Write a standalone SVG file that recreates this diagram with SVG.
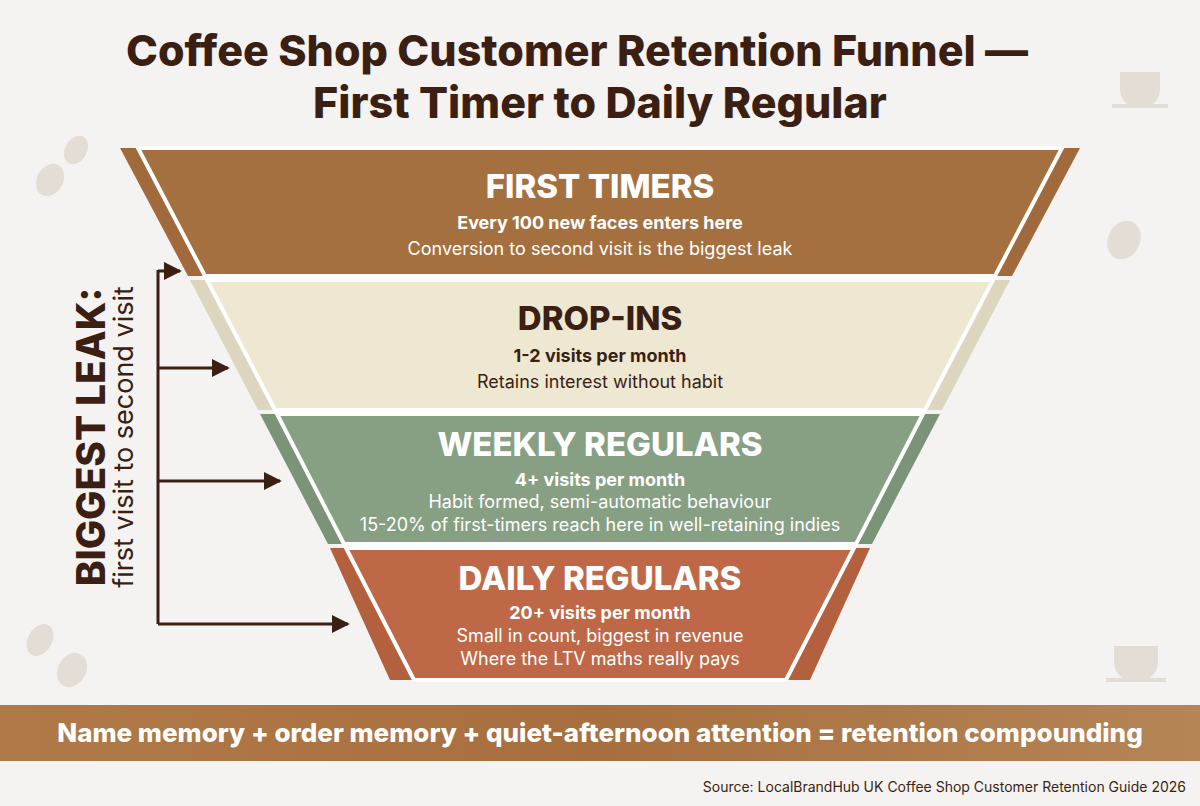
<svg xmlns="http://www.w3.org/2000/svg" width="1200" height="806" viewBox="0 0 1200 806">
<defs>
<style>
.t{font-family:Inter,"Open Sans",sans-serif;font-weight:800;text-anchor:middle}
.h{font-family:Inter,"Open Sans",sans-serif;font-weight:800;font-size:33px;text-anchor:middle}
.s{font-family:Inter,"Open Sans",sans-serif;font-size:18px;text-anchor:middle}
.sb{font-family:Inter,"Open Sans",sans-serif;font-weight:700;font-size:18px;text-anchor:middle}
.w{fill:#fff}.d{fill:#3b1f12}
.c{stroke:#3b1f12;stroke-width:3;fill:none}
</style>
<marker id="ar" viewBox="0 0 10 10" refX="9" refY="5" markerWidth="6" markerHeight="6" orient="auto"><path d="M0,0L10,5L0,10z" fill="#3b1f12"/></marker>
<linearGradient id="bn" x1="0" x2="1"><stop offset="0" stop-color="#b07a48"/><stop offset="0.5" stop-color="#a86f3e"/><stop offset="1" stop-color="#b58556"/></linearGradient>
</defs>
<rect width="1200" height="806" fill="#f4f3f1"/>
<g fill="#e4ddd5">
<ellipse cx="50" cy="180" rx="13" ry="17" transform="rotate(30 50 180)"/><ellipse cx="76" cy="150" rx="11" ry="15" transform="rotate(30 76 150)"/>
<ellipse cx="1124" cy="240" rx="16" ry="20" transform="rotate(25 1124 240)"/>
<ellipse cx="40" cy="640" rx="12" ry="17" transform="rotate(30 40 640)"/><ellipse cx="72" cy="670" rx="14" ry="18" transform="rotate(30 72 670)"/>
<path d="M1120,72h40v18a20,18 0 0 1-40,0z M1112,104h56v4h-56z"/>
<path d="M1114,646h44v16a22,20 0 0 1-44,0z M1106,678h60v4h-60z"/>
</g>
<text class="t d" x="577" y="66" font-size="43">Coffee Shop Customer Retention Funnel —</text>
<text class="t d" x="600" y="118" font-size="43">First Timer to Daily Regular</text>
<g id="back">
<polygon points="120,148 1080,148 1012,276 188,276" fill="#a06a3c"/>
<polygon points="190,280 1010,280 942,410 258,410" fill="#ddd6bf"/>
<polygon points="260,414 940,414 872,544 328,544" fill="#7b9478"/>
<polygon points="330,548 870,548 810,680 390,680" fill="#b2603e"/>
</g>
<g id="n1"><polygon points="138,148 1062,148 995,276 205,276" fill="#a5703f" stroke="#fff" stroke-width="4"/>
<text class="h w" x="600" y="198">FIRST TIMERS</text>
<text class="sb w" x="600" y="229">Every 100 new faces enters here</text>
<text class="s w" x="600" y="255">Conversion to second visit is the biggest leak</text></g>
<g id="n2"><polygon points="207,280 993,280 925,410 275,410" fill="#eee8d2" stroke="#fff" stroke-width="4"/>
<text class="h d" x="600" y="330">DROP-INS</text>
<text class="sb d" x="600" y="362">1-2 visits per month</text>
<text class="s d" x="600" y="388">Retains interest without habit</text></g>
<g id="n3"><polygon points="277,414 923,414 856,544 344,544" fill="#87a084" stroke="#fff" stroke-width="4"/>
<text class="h w" x="600" y="456">WEEKLY REGULARS</text>
<text class="sb w" x="600" y="486">4+ visits per month</text>
<text class="s w" x="600" y="508">Habit formed, semi-automatic behaviour</text>
<text class="s w" x="600" y="531">15-20% of first-timers reach here in well-retaining indies</text></g>
<g id="n4"><polygon points="346,548 854,548 786,680 414,680" fill="#bf6847" stroke="#fff" stroke-width="4"/>
<text class="h w" x="600" y="590">DAILY REGULARS</text>
<text class="sb w" x="600" y="619">20+ visits per month</text>
<text class="s w" x="600" y="642">Small in count, biggest in revenue</text>
<text class="s w" x="600" y="665">Where the LTV maths really pays</text></g>
<g id="connectors">
<path class="c" d="M158,270V624"/>
<path class="c" d="M158,271H180" marker-end="url(#ar)"/>
<path class="c" d="M158,368H228" marker-end="url(#ar)"/>
<path class="c" d="M158,481H280" marker-end="url(#ar)"/>
<path class="c" d="M158,624H348" marker-end="url(#ar)"/>
</g>
<g id="leak">
<text class="t d" font-size="39" transform="translate(105,437) rotate(-90)">BIGGEST LEAK:</text>
<text class="s d" transform="translate(133,437) rotate(-90)" style="font-size:27px">first visit to second visit</text>
</g>
<rect x="0" y="705" width="1200" height="56" fill="url(#bn)"/>
<text class="t w" x="600" y="742" font-size="26">Name memory + order memory + quiet-afternoon attention = retention compounding</text>
<text x="1186" y="792" font-family="Inter,'Open Sans',sans-serif" font-size="14" fill="#3b1f12" text-anchor="end">Source: LocalBrandHub UK Coffee Shop Customer Retention Guide 2026</text>
</svg>
